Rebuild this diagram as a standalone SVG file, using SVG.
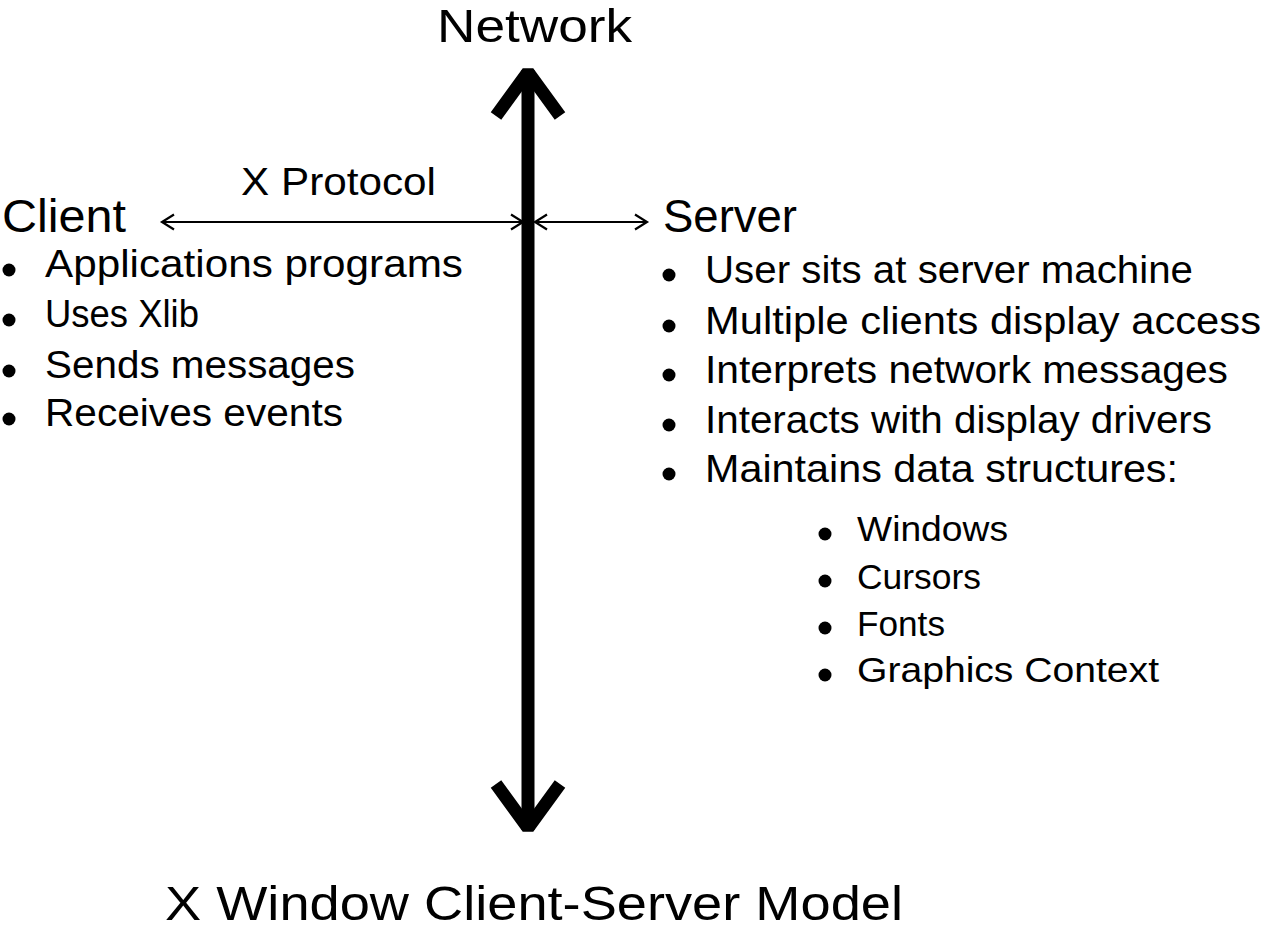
<svg xmlns="http://www.w3.org/2000/svg" width="1261" height="931" viewBox="0 0 1261 931">
<style>
  text { font-family: "Liberation Sans", Arial, sans-serif; fill: #000; }
  .big { font-size: 46px; }
  .title { font-size: 48px; }
  .head { font-size: 46px; }
  .item { font-size: 38px; }
  .sub { font-size: 35px; }
  .dot { fill: #000; }
  .thin { stroke: #000; stroke-width: 2.2; fill: none; }
  .thick { stroke: #000; stroke-width: 13; fill: none; stroke-linecap: butt; stroke-linejoin: bevel; }
</style>
<rect width="1261" height="931" fill="#fff"/>

<g id="connectors">
  <line class="thick" x1="528" y1="70" x2="528" y2="830"/>
  <polyline class="thick" points="496,116 528,72 560,116"/>
  <polyline class="thick" points="496,784 528,828 560,784"/>
  <line class="thin" x1="162" y1="222" x2="523" y2="222"/>
  <polyline class="thin" points="174,214.5 162,222 174,229.5"/>
  <polyline class="thin" points="511,214.5 523,222 511,229.5"/>
  <line class="thin" x1="535" y1="222" x2="647" y2="222"/>
  <polyline class="thin" points="547,214.5 535,222 547,229.5"/>
  <polyline class="thin" points="635,214.5 647,222 635,229.5"/>
</g>

<g id="network">
  <text class="big" x="437" y="42" textLength="195" lengthAdjust="spacingAndGlyphs">Network</text>
</g>

<g id="protocol">
  <text class="item" x="241" y="195" textLength="195" lengthAdjust="spacingAndGlyphs">X Protocol</text>
</g>

<g id="client">
  <text class="head" x="2" y="232" textLength="124" lengthAdjust="spacingAndGlyphs">Client</text>
  <circle class="dot" cx="9" cy="270" r="6.5"/>
  <text class="item" x="45" y="277" textLength="418" lengthAdjust="spacingAndGlyphs">Applications programs</text>
  <circle class="dot" cx="9" cy="320" r="6.5"/>
  <text class="item" x="45" y="327" textLength="154" lengthAdjust="spacingAndGlyphs">Uses Xlib</text>
  <circle class="dot" cx="9" cy="371" r="6.5"/>
  <text class="item" x="45" y="378" textLength="310" lengthAdjust="spacingAndGlyphs">Sends messages</text>
  <circle class="dot" cx="9" cy="419" r="6.5"/>
  <text class="item" x="45" y="426" textLength="298" lengthAdjust="spacingAndGlyphs">Receives events</text>
</g>

<g id="server">
  <text class="head" x="663" y="232" textLength="134" lengthAdjust="spacingAndGlyphs">Server</text>
  <circle class="dot" cx="669" cy="275" r="6.5"/>
  <text class="item" x="705" y="283" textLength="488" lengthAdjust="spacingAndGlyphs">User sits at server machine</text>
  <circle class="dot" cx="669" cy="326" r="6.5"/>
  <text class="item" x="705" y="334" textLength="556" lengthAdjust="spacingAndGlyphs">Multiple clients display access</text>
  <circle class="dot" cx="669" cy="375" r="6.5"/>
  <text class="item" x="705" y="383" textLength="523" lengthAdjust="spacingAndGlyphs">Interprets network messages</text>
  <circle class="dot" cx="669" cy="425" r="6.5"/>
  <text class="item" x="705" y="433" textLength="507" lengthAdjust="spacingAndGlyphs">Interacts with display drivers</text>
  <circle class="dot" cx="669" cy="474" r="6.5"/>
  <text class="item" x="705" y="482" textLength="473" lengthAdjust="spacingAndGlyphs">Maintains data structures:</text>
</g>

<g id="structures">
  <circle class="dot" cx="825" cy="534" r="6.5"/>
  <text class="sub" x="857" y="541" textLength="151" lengthAdjust="spacingAndGlyphs">Windows</text>
  <circle class="dot" cx="825" cy="581" r="6.5"/>
  <text class="sub" x="857" y="589" textLength="124" lengthAdjust="spacingAndGlyphs">Cursors</text>
  <circle class="dot" cx="825" cy="628" r="6.5"/>
  <text class="sub" x="857" y="636" textLength="88" lengthAdjust="spacingAndGlyphs">Fonts</text>
  <circle class="dot" cx="825" cy="675" r="6.5"/>
  <text class="sub" x="857" y="682" textLength="302" lengthAdjust="spacingAndGlyphs">Graphics Context</text>
</g>

<g id="title">
  <text class="title" x="165" y="920" textLength="738" lengthAdjust="spacingAndGlyphs">X Window Client-Server Model</text>
</g>
</svg>
